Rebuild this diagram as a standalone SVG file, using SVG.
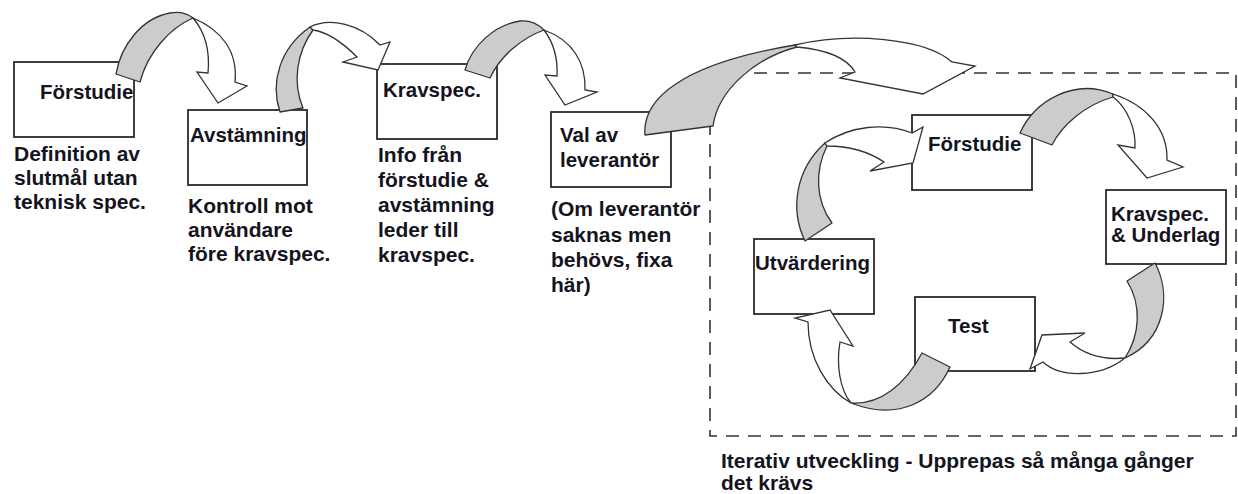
<svg xmlns="http://www.w3.org/2000/svg" width="1238" height="494" viewBox="0 0 1238 494">
<style>
.bg{fill:#ffffff}
.box{fill:#ffffff;stroke:#2a2a2a;stroke-width:1.8}
.t{font-family:"Liberation Sans",Arial,sans-serif;font-weight:bold;font-size:21px;fill:#141420}
.tl{font-family:"Liberation Sans",Arial,sans-serif;font-weight:bold;font-size:20.5px;fill:#141420}
.dash{fill:none;stroke:#333333;stroke-width:1.6;stroke-dasharray:13 9}
.ag{fill:#cccccc;stroke:#333333;stroke-width:1.3;stroke-linejoin:round}
.aw{fill:#ffffff;stroke:#333333;stroke-width:1.3;stroke-linejoin:miter}
</style>
<rect class="bg" x="0" y="0" width="1238" height="494"/>

<g id="iteration-frame">
<rect class="dash" x="710" y="73" width="526" height="363"/>
</g>

<g id="forstudie">
<rect class="box" x="14" y="62" width="120" height="75"/>
<text class="tl" x="40" y="99">Förstudie</text>
</g>
<g id="forstudie-note">
<text class="t" x="14" y="161">Definition av</text>
<text class="t" x="14" y="185">slutmål utan</text>
<text class="t" x="14" y="209">teknisk spec.</text>
</g>

<g id="avstamning">
<rect class="box" x="188" y="110" width="119" height="75"/>
<text class="tl" x="190" y="142">Avstämning</text>
</g>
<g id="avstamning-note">
<text class="t" x="188" y="213">Kontroll mot</text>
<text class="t" x="188" y="237">användare</text>
<text class="t" x="188" y="261">före kravspec.</text>
</g>

<g id="kravspec">
<rect class="box" x="377" y="64" width="120" height="75"/>
<text class="tl" x="383" y="97">Kravspec.</text>
</g>
<g id="kravspec-note">
<text class="t" x="378" y="162">Info från</text>
<text class="t" x="378" y="187">förstudie &amp;</text>
<text class="t" x="378" y="212">avstämning</text>
<text class="t" x="378" y="237">leder till</text>
<text class="t" x="378" y="262">kravspec.</text>
</g>

<g id="val-av-leverantor">
<rect class="box" x="551" y="112" width="120" height="75"/>
<text class="tl" x="560" y="142">Val av</text>
<text class="tl" x="560" y="167">leverantör</text>
</g>
<g id="val-note">
<text class="t" x="551" y="216">(Om leverantör</text>
<text class="t" x="551" y="242">saknas men</text>
<text class="t" x="551" y="267">behövs, fixa</text>
<text class="t" x="551" y="292">här)</text>
</g>

<g id="it-forstudie">
<rect class="box" x="912" y="115" width="120" height="75"/>
<text class="tl" x="928" y="151">Förstudie</text>
</g>

<g id="it-kravspec">
<rect class="box" x="1106" y="190" width="120" height="74"/>
<text class="tl" x="1111" y="221">Kravspec.</text>
<text class="tl" x="1111" y="242">&amp; Underlag</text>
</g>

<g id="it-test">
<rect class="box" x="915" y="297" width="120" height="74"/>
<text class="tl" x="948" y="333">Test</text>
</g>

<g id="it-utvardering">
<rect class="box" x="754" y="239" width="120" height="75"/>
<text class="tl" x="755" y="270">Utvärdering</text>
</g>

<g id="connectors">
<!-- Förstudie -> Avstämning -->
<path class="ag" d="M116,74 C121,45 142,18 170,13 C180,11 188,14 193,18 C170,28 148,52 140,82 Z"/>
<path class="aw" d="M193,18 C222,30 238,52 235,82 L247,86 L218,103 L197,72 L208,73 C210,52 205,32 193,18 Z"/>
<!-- Avstämning -> Kravspec -->
<path class="ag" d="M280,112 C270,82 280,48 310,27 L313,30 C297,52 292,82 303,108 Z"/>
<path class="aw" d="M310,27 C330,17 360,24 380,45 L390,42 L378,70 L343,62 L357,57 C342,42 328,32 313,30 Z"/>
<!-- Kravspec -> Val av leverantör -->
<path class="ag" d="M465,70 C472,45 495,25 520,21 C530,20 538,24 544,30 C522,38 500,56 490,78 Z"/>
<path class="aw" d="M544,30 C572,40 586,62 585,90 L597,92 L565,105 L545,75 L557,76 C558,58 553,42 544,30 Z"/>
<!-- Val av leverantör -> iteration -->
<path class="ag" d="M645,135 C642,100 680,64 795,45 L797,47 C755,58 718,90 713,126 Z"/>
<path class="aw" d="M795,45 C850,32 925,38 952,62 L975,66 L923,94 L840,78 L855,72 C848,60 830,50 797,47 Z"/>
<!-- it Förstudie -> Kravspec & Underlag -->
<path class="ag" d="M1020,133 C1035,100 1075,78 1113,94 L1113,97 C1085,105 1062,125 1052,145 Z"/>
<path class="aw" d="M1113,94 C1147,105 1168,130 1167,160 L1183,167 L1147,178 L1118,145 L1135,148 C1136,130 1128,108 1113,97 Z"/>
<!-- Kravspec & Underlag -> Test -->
<path class="ag" d="M1127,281 L1155,263 C1172,295 1165,340 1125,358 C1140,335 1142,305 1127,281 Z"/>
<path class="aw" d="M1125,358 C1100,378 1060,378 1043,362 L1030,369 L1042,335 L1085,333 L1070,342 C1085,355 1105,360 1125,358 Z"/>
<!-- Test -> Utvärdering -->
<path class="ag" d="M922,353 L950,367 C935,400 900,422 851,403 C880,405 905,385 922,353 Z"/>
<path class="aw" d="M851,403 C828,390 808,360 808,322 L795,318 L830,310 L853,346 L840,342 C836,365 840,390 851,403 Z"/>
<!-- Utvärdering -> Förstudie -->
<path class="ag" d="M805,241 C790,210 795,170 825,143 L827,146 C815,170 815,200 832,223 Z"/>
<path class="aw" d="M825,143 C850,126 885,122 912,133 L923,127 L913,163 L870,171 L884,162 C866,150 846,146 827,146 Z"/>
</g>

<g id="iteration-note">
<text class="t" x="721" y="468">Iterativ utveckling - Upprepas så många gånger</text>
<text class="t" x="721" y="490">det krävs</text>
</g>
</svg>
